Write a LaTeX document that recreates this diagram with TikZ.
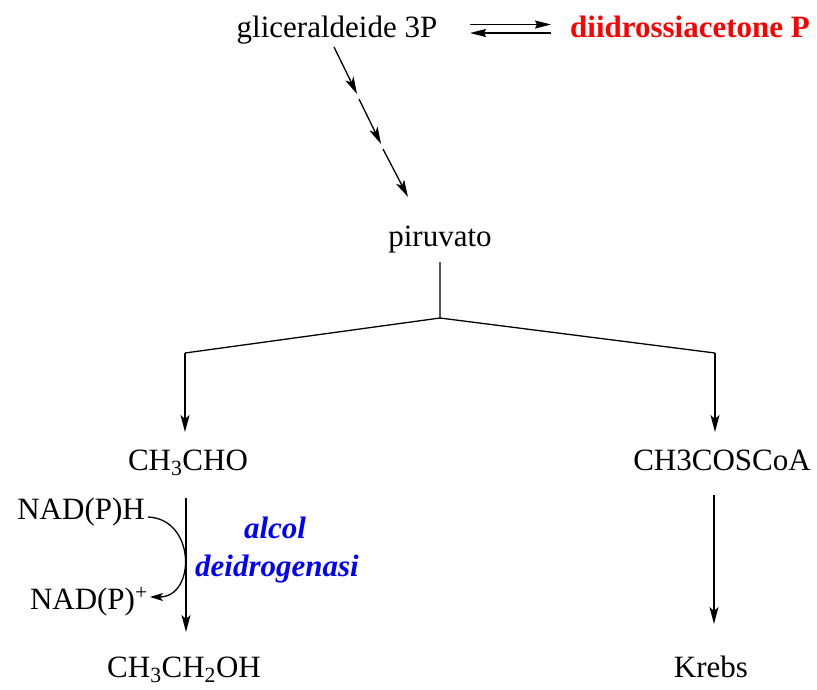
\documentclass[tikz,border=0pt]{standalone}
\usepackage{fontspec}
\setmainfont{Liberation Serif}
\usetikzlibrary{arrows.meta}
\begin{document}
\begin{tikzpicture}[x=1pt,y=-1pt,
  lbl/.style={anchor=base,inner sep=0pt,font=\fontsize{31}{34}\selectfont},
  conn/.style={line width=1.3pt},
  arr/.style={conn,-{Stealth[length=17pt,width=9pt,inset=4pt]}},
  eq/.style={conn,-{Stealth[length=16pt,width=8pt,inset=2pt]}}]
\useasboundingbox (0,0) rectangle (817,689);
\node[lbl] (gap) at (337,37) {gliceraldeide 3P};
\node[lbl,text=red,font=\fontsize{31}{34}\selectfont\bfseries] (dhap) at (690,37) {diidrossiacetone P};
\node[lbl] (pir) at (440,246) {piruvato};
\node[lbl] (ch3cho) at (188,470) {CH\textsubscript{3}CHO};
\node[lbl] (acoa) at (722,470) {CH3COSCoA};
\node[lbl,anchor=base east] (nadh) at (145,519) {NAD(P)H};
\node[lbl,anchor=base east] (nadp) at (148,609) {NAD(P)\textsuperscript{+}};
\node[lbl,text=blue,font=\fontsize{31}{34}\selectfont\bfseries\itshape] (alcol) at (275,538) {alcol};
\node[lbl,text=blue,font=\fontsize{31}{34}\selectfont\bfseries\itshape] (deid) at (277,576) {deidrogenasi};
\node[lbl] (etoh) at (184,677) {CH\textsubscript{3}CH\textsubscript{2}OH};
\node[lbl] (krebs) at (711,677) {Krebs};
% equilibrium arrows
\coordinate (e1) at (470,24.5);
\coordinate (e2) at (551,24.5);
\coordinate (e3) at (551,33);
\coordinate (e4) at (470,33);
\draw[eq] (e1) -- (e2);
\draw[eq] (e3) -- (e4);
% diagonal multistep arrows
\coordinate (d1) at (334,47);
\coordinate (d2) at (357,94);
\coordinate (d3) at (359,99);
\coordinate (d4) at (381,144);
\coordinate (d5) at (383,149);
\coordinate (d6) at (408,197);
\draw[arr] (d1) -- (d2);
\draw[arr] (d3) -- (d4);
\draw[arr] (d5) -- (d6);
% branching
\coordinate (p0) at (440,262);
\coordinate (j) at (440,318);
\coordinate (l) at (185,353);
\coordinate (r) at (715,353);
\coordinate (lb) at (185,432);
\coordinate (rb) at (715,432);
\draw[conn] (p0) -- (j) -- (l);
\draw[conn] (j) -- (r);
\draw[arr] (l) -- (lb);
\draw[arr] (r) -- (rb);
% lower arrows
\coordinate (a1) at (186,498);
\coordinate (a2) at (186,632);
\draw[arr] (a1) -- (a2);
\coordinate (k1) at (714,495);
\coordinate (k2) at (714,624);
\draw[arr] (k1) -- (k2);
% cofactor curved arrow
\coordinate (c1) at (148,517);
\coordinate (c2) at (150,597);
\draw[conn,-{Stealth[length=13pt,width=8pt,inset=3pt]}] (c1) .. controls (196,519) and (196,597) .. (c2);
\end{tikzpicture}
\end{document}
